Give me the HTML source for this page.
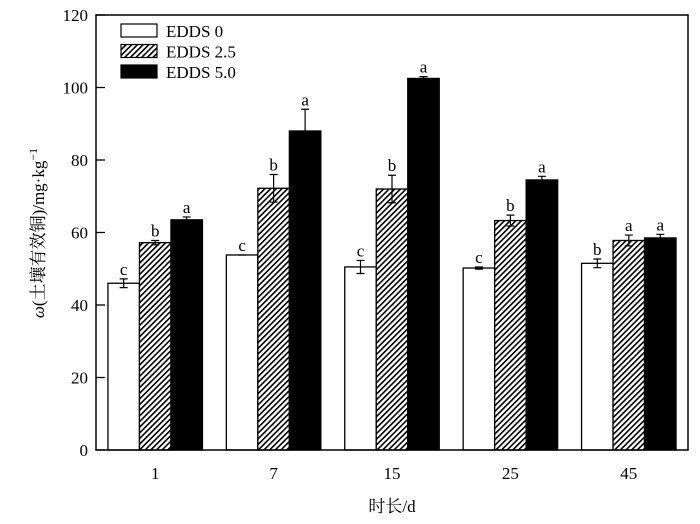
<!DOCTYPE html>
<html><head><meta charset="utf-8"><style>
body{margin:0;background:#fff}
svg{display:block;font-family:"Liberation Serif","Noto Serif CJK SC",serif}
</style></head><body>
<svg id="chart" width="700" height="524" xmlns="http://www.w3.org/2000/svg">
<defs><pattern id="hatch" patternUnits="userSpaceOnUse" width="4" height="4" patternTransform="rotate(45)"><rect width="4" height="4" fill="#fff"/><rect width="1.6" height="4" fill="#000"/></pattern></defs>
<g id="plot"></g>
</svg>
<script>
const categories=["1","7","15","25","45"];
const series=["EDDS 0","EDDS 2.5","EDDS 5.0"];
const values0=[46,53.8,50.5,50.2,51.5];
const values1=[57.2,72.2,72,63.3,57.8];
const values2=[63.5,88,102.5,74.5,58.5];
const err0=[1.2,0,1.8,0.3,1.2];
const err1=[0.6,3.8,3.8,1.5,1.5];
const err2=[0.8,6,0.5,1,1];
const letters0=["c","c","c","c","b"];
const letters1=["b","b","b","b","a"];
const letters2=["a","a","a","a","a"];
const yTicks=[0,20,40,60,80,100,120];
const NS="http://www.w3.org/2000/svg";
const L=96,R=688,T=15,B=450,yMax=120;
const y=v=>B-(v/yMax)*(B-T);
const bw=(R-L)/categories.length;
const cx=i=>L+bw*(i+0.5);
const barW=31.5;
const g=document.getElementById('plot');
function mk(tag,attrs,parent){const e=document.createElementNS(NS,tag);for(const k in attrs)e.setAttribute(k,attrs[k]);(parent||g).appendChild(e);return e;}
const vals=[values0,values1,values2],errs=[err0,err1,err2],lets=[letters0,letters1,letters2];
const fills=["#fff","url(#hatch)","#000"];
categories.forEach((c,i)=>{
  for(let s=0;s<3;s++){
    const x=cx(i)+(s-1.5)*barW, v=vals[s][i], e=errs[s][i];
    const r=mk('rect',{x:x,y:y(v),width:barW,height:B-y(v),fill:fills[s],stroke:"#000","stroke-width":1.3});
    
    
    const xm=x+barW/2;
    const eb=mk('path',{d:`M${xm},${y(v+e)}V${y(v-e)}M${xm-4},${y(v+e)}H${xm+4}M${xm-4},${y(v-e)}H${xm+4}`,stroke:s==2?"#000":"#000","stroke-width":1.2,fill:"none"});
    
    
    const t=mk('text',{x:xm,y:y(v+e)-4,"text-anchor":"middle","font-size":17});
    t.textContent=lets[s][i];
    
    
  }
  const xl=mk('text',{x:cx(i),y:479,"text-anchor":"middle","font-size":17});
  xl.textContent=c;
  
  
});
yTicks.forEach(t=>{
  const tk=mk('line',{x1:L,x2:L+9,y1:y(t),y2:y(t),stroke:"#000","stroke-width":1.3});
  
  
  const tl=mk('text',{x:L-8,y:y(t)+6,"text-anchor":"end","font-size":17});
  tl.textContent=t;
  
  
});
const fr=mk('rect',{x:L,y:T,width:R-L,height:B-T,fill:"none",stroke:"#000","stroke-width":1.5});


series.forEach((s,k)=>{
  const ly=24+k*20.5;
  const r=mk('rect',{x:121,y:ly,width:36,height:13,fill:fills[k],stroke:"#000","stroke-width":1.2});
  
  
  const t=mk('text',{x:166,y:ly+13,"font-size":17});
  t.textContent=s;
  
  
});
const xt=mk('text',{x:392,y:512,"text-anchor":"middle","font-size":17});
xt.textContent="时长/d";


const yt=mk('text',{x:0,y:0,"text-anchor":"middle","font-size":17,transform:"translate(44,233) rotate(-90)"});
yt.innerHTML='<tspan font-style="italic">ω</tspan>(土壤有效铜)/mg·kg<tspan dy="-7" font-size="12">−1</tspan>';


</script>
</body></html>
